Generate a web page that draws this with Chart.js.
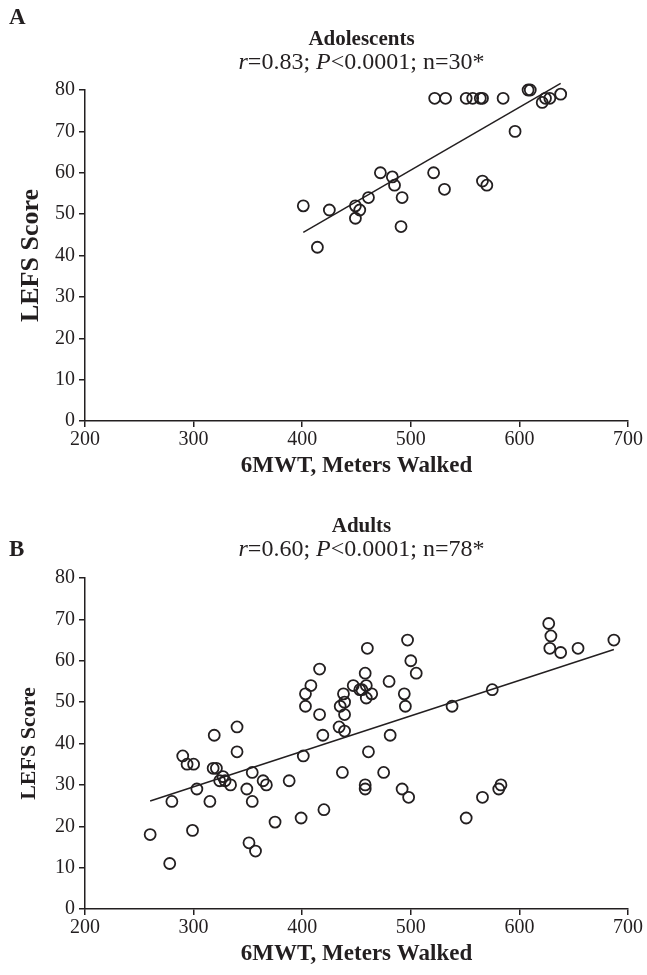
<!DOCTYPE html>
<html>
<head>
<meta charset="utf-8">
<script src="https://cdn.jsdelivr.net/npm/chart.js@4/dist/chart.umd.min.js"></script>
<style>
	body { margin: 0; background: #fff; }
	.panel { position: absolute; left: 0; width: 647px; height: 487px; }
	#boxA { top: 0; }
	#boxB { top: 488px; }
</style>
</head>
<body>
<div class="panel" id="boxA"><canvas id="chartA"></canvas></div>
<div class="panel" id="boxB"><canvas id="chartB"></canvas></div>
<script>
// Adolescents (panel A)
const adolMeters = [401, 414, 425, 449, 449, 453, 461, 472, 483, 485, 492, 491, 521, 531, 522, 532, 551, 557, 564, 566, 585, 608, 610, 621, 624, 628, 638, 596, 566, 570];
const adolLefs   = [52, 42, 51, 52, 49, 51, 54, 60, 59, 57, 54, 47, 60, 56, 78, 78, 78, 78, 78, 78, 78, 80, 80, 77, 78, 78, 79, 70, 58, 57];
const adolFitX = [401, 638];
const adolFitY = [45.6, 81.6];

// Adults (panel B)
const adultMeters = [416, 408, 403, 403, 416, 497, 460, 500, 505, 458, 480, 447, 453, 455, 459, 464, 459, 438, 439, 435, 439, 494, 495, 538, 575,
	627, 629, 628, 638, 654, 687,
	340, 319, 419, 340, 290, 294, 300, 318, 321, 327, 324, 329, 334, 354, 303, 364, 367, 388, 349, 280, 315, 354, 420, 399, 375, 260, 299, 351, 357, 278, 401,
	434, 439, 481, 461, 437, 475, 458, 458, 492, 498, 583, 581, 566, 551];
const adultLefs = [58, 54, 52, 49, 47, 65, 63, 60, 57, 57, 55, 54, 53, 53, 54, 52, 51, 52, 50, 49, 47, 52, 49, 49, 53,
	69, 66, 63, 62, 63, 65,
	44, 42, 42, 38, 37, 35, 35, 34, 34, 32, 31, 31, 30, 33, 29, 31, 30, 31, 29, 26, 26, 26, 24, 22, 21, 18, 19, 16, 14, 11, 37,
	44, 43, 42, 38, 33, 33, 30, 29, 29, 27, 30, 29, 27, 22];
const adultFitX = [260, 687];
const adultFitY = [26.1, 62.7];

const xTickMin = 200, xTickMax = 700, xStep = 100;
const yTickMin = 0, yTickMax = 80, yStep = 10;

const ink = '#231f20';
const serif = '"Liberation Serif", "Times New Roman", serif';

const toPoints = (xs, ys) => xs.map((x, i) => ({ x, y: ys[i] }));

// titles, subtitle with italic bits, panel letter
const panelText = {
	id: 'panelText',
	afterDraw(chart, args, opts) {
		const ctx = chart.ctx;
		const cx = (chart.chartArea.left + chart.chartArea.right) / 2 + 5;
		ctx.save();
		ctx.fillStyle = ink;
		ctx.textBaseline = 'middle';

		ctx.textAlign = 'left';
		ctx.font = 'bold 23px ' + serif;
		ctx.fillText(opts.letter, 9, opts.letterY);

		ctx.textAlign = 'center';
		ctx.font = 'bold 21px ' + serif;
		ctx.fillText(opts.title, cx, opts.titleY);

		ctx.textAlign = 'left';
		const fontOf = seg => (seg.italic ? 'italic ' : '') + '24px ' + serif;
		let total = 0;
		for (const seg of opts.sub) {
			ctx.font = fontOf(seg);
			total += ctx.measureText(seg.text).width;
		}
		let x = cx - total / 2;
		for (const seg of opts.sub) {
			ctx.font = fontOf(seg);
			ctx.fillText(seg.text, x, opts.subY);
			x += ctx.measureText(seg.text).width;
		}
		ctx.restore();
	}
};

const makeChart = (id, pts, fitX, fitY, text, yTitleSize) => new Chart(document.getElementById(id), {
	type: 'scatter',
	data: {
		datasets: [{
			data: toPoints(pts[0], pts[1]),
			pointStyle: 'circle',
			pointRadius: 5.5,
			pointHoverRadius: 5.5,
			borderColor: ink,
			backgroundColor: 'rgba(0,0,0,0)',
			borderWidth: 1.8,
			clip: false
		}, {
			type: 'line',
			data: toPoints(fitX, fitY),
			borderColor: ink,
			borderWidth: 1.5,
			pointRadius: 0,
			fill: false,
			clip: false
		}]
	},
	options: {
		responsive: true,
		maintainAspectRatio: false,
		animation: false,
		layout: { padding: { left: 0, right: 19, top: 90, bottom: 7 } },
		plugins: {
			legend: { display: false },
			tooltip: { enabled: false },
			panelText: text
		},
		scales: {
			x: {
				type: 'linear',
				min: xTickMin,
				max: xTickMax,
				ticks: { stepSize: xStep, color: ink, font: { family: serif, size: 20 }, padding: 1 },
				grid: { display: true, drawOnChartArea: false, drawTicks: true, tickLength: 6, color: ink, lineWidth: 1.5 },
				border: { color: ink, width: 1.5 },
				title: { display: true, text: '6MWT, Meters Walked', color: ink, font: { family: serif, size: 23, weight: 'bold' }, padding: { top: 0, bottom: 0 } },
				afterFit: scale => { scale.height = 59; }
			},
			y: {
				type: 'linear',
				min: yTickMin,
				max: yTickMax,
				ticks: { stepSize: yStep, color: ink, font: { family: serif, size: 20 }, padding: 4 },
				grid: { display: true, drawOnChartArea: false, drawTicks: true, tickLength: 6, color: ink, lineWidth: 1.5 },
				border: { color: ink, width: 1.5 },
				title: { display: true, text: 'LEFS Score', color: ink, font: { family: serif, size: yTitleSize, weight: 'bold' }, padding: { top: 16, bottom: 0 } },
				afterFit: scale => { scale.width = 85; }
			}
		}
	},
	plugins: [panelText]
});

makeChart('chartA', [adolMeters, adolLefs], adolFitX, adolFitY, {
	letter: 'A', letterY: 18, title: 'Adolescents', titleY: 40, subY: 63,
	sub: [{ text: 'r', italic: true }, { text: '=0.83; ' }, { text: 'P', italic: true }, { text: '<0.0001; n=30*' }]
}, 26);

makeChart('chartB', [adultMeters, adultLefs], adultFitX, adultFitY, {
	letter: 'B', letterY: 62, title: 'Adults', titleY: 39, subY: 62,
	sub: [{ text: 'r', italic: true }, { text: '=0.60; ' }, { text: 'P', italic: true }, { text: '<0.0001; n=78*' }]
}, 22);
</script>
</body>
</html>
